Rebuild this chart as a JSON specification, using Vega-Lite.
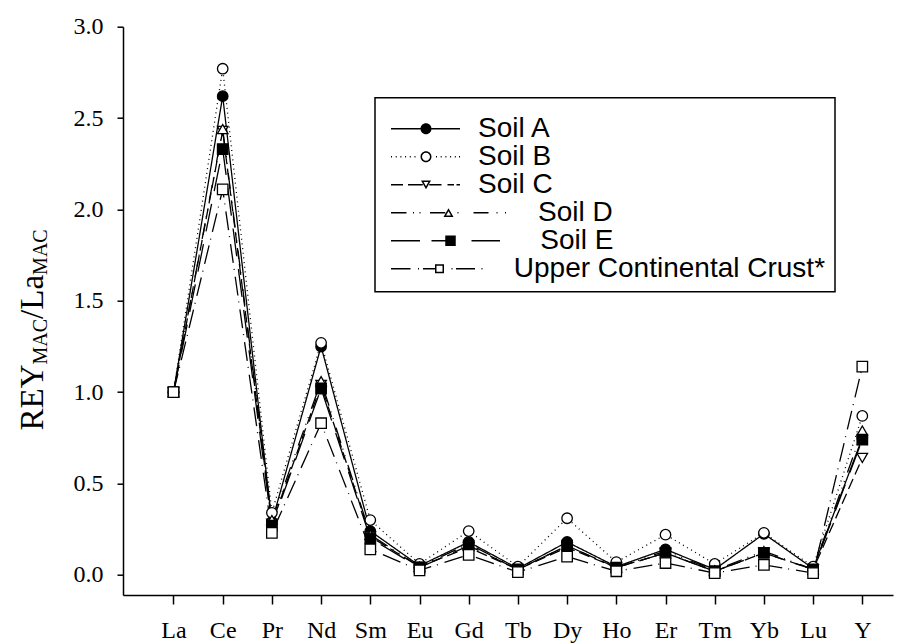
{
  "$schema": "https://vega.github.io/schema/vega-lite/v6.json",
  "width": 770,
  "height": 568.3,
  "autosize": {"type": "none"},
  "padding": {"left": 123, "top": 26.7, "right": 4, "bottom": 49},
  "background": "white",
  "config": {
    "view": {"stroke": null},
    "axis": {"grid": false, "domainColor": "black", "tickColor": "black", "labelColor": "black", "titleColor": "black", "labelFont": "Liberation Serif", "titleFont": "Liberation Serif", "titleFontWeight": "normal"},
    "legend": {"strokeWidth": 1.5}
  },
  "data": {"values": [
    {"series": "Soil A", "element": "La", "value": 1.0}, {"series": "Soil A", "element": "Ce", "value": 2.62}, {"series": "Soil A", "element": "Pr", "value": 0.29}, {"series": "Soil A", "element": "Nd", "value": 1.25}, {"series": "Soil A", "element": "Sm", "value": 0.24}, {"series": "Soil A", "element": "Eu", "value": 0.05}, {"series": "Soil A", "element": "Gd", "value": 0.18}, {"series": "Soil A", "element": "Tb", "value": 0.035}, {"series": "Soil A", "element": "Dy", "value": 0.18}, {"series": "Soil A", "element": "Ho", "value": 0.045}, {"series": "Soil A", "element": "Er", "value": 0.14}, {"series": "Soil A", "element": "Tm", "value": 0.03}, {"series": "Soil A", "element": "Yb", "value": 0.225}, {"series": "Soil A", "element": "Lu", "value": 0.035}, {"series": "Soil A", "element": "Y", "value": 0.75},
    {"series": "Soil B", "element": "La", "value": 1.0}, {"series": "Soil B", "element": "Ce", "value": 2.77}, {"series": "Soil B", "element": "Pr", "value": 0.34}, {"series": "Soil B", "element": "Nd", "value": 1.27}, {"series": "Soil B", "element": "Sm", "value": 0.30}, {"series": "Soil B", "element": "Eu", "value": 0.06}, {"series": "Soil B", "element": "Gd", "value": 0.24}, {"series": "Soil B", "element": "Tb", "value": 0.045}, {"series": "Soil B", "element": "Dy", "value": 0.31}, {"series": "Soil B", "element": "Ho", "value": 0.07}, {"series": "Soil B", "element": "Er", "value": 0.22}, {"series": "Soil B", "element": "Tm", "value": 0.06}, {"series": "Soil B", "element": "Yb", "value": 0.23}, {"series": "Soil B", "element": "Lu", "value": 0.045}, {"series": "Soil B", "element": "Y", "value": 0.87},
    {"series": "Soil C", "element": "La", "value": 1.0}, {"series": "Soil C", "element": "Ce", "value": 2.43}, {"series": "Soil C", "element": "Pr", "value": 0.28}, {"series": "Soil C", "element": "Nd", "value": 1.04}, {"series": "Soil C", "element": "Sm", "value": 0.21}, {"series": "Soil C", "element": "Eu", "value": 0.045}, {"series": "Soil C", "element": "Gd", "value": 0.15}, {"series": "Soil C", "element": "Tb", "value": 0.03}, {"series": "Soil C", "element": "Dy", "value": 0.15}, {"series": "Soil C", "element": "Ho", "value": 0.04}, {"series": "Soil C", "element": "Er", "value": 0.12}, {"series": "Soil C", "element": "Tm", "value": 0.02}, {"series": "Soil C", "element": "Yb", "value": 0.12}, {"series": "Soil C", "element": "Lu", "value": 0.03}, {"series": "Soil C", "element": "Y", "value": 0.64},
    {"series": "Soil D", "element": "La", "value": 1.0}, {"series": "Soil D", "element": "Ce", "value": 2.44}, {"series": "Soil D", "element": "Pr", "value": 0.30}, {"series": "Soil D", "element": "Nd", "value": 1.06}, {"series": "Soil D", "element": "Sm", "value": 0.22}, {"series": "Soil D", "element": "Eu", "value": 0.045}, {"series": "Soil D", "element": "Gd", "value": 0.17}, {"series": "Soil D", "element": "Tb", "value": 0.03}, {"series": "Soil D", "element": "Dy", "value": 0.16}, {"series": "Soil D", "element": "Ho", "value": 0.04}, {"series": "Soil D", "element": "Er", "value": 0.13}, {"series": "Soil D", "element": "Tm", "value": 0.025}, {"series": "Soil D", "element": "Yb", "value": 0.13}, {"series": "Soil D", "element": "Lu", "value": 0.03}, {"series": "Soil D", "element": "Y", "value": 0.79},
    {"series": "Soil E", "element": "La", "value": 1.0}, {"series": "Soil E", "element": "Ce", "value": 2.33}, {"series": "Soil E", "element": "Pr", "value": 0.27}, {"series": "Soil E", "element": "Nd", "value": 1.02}, {"series": "Soil E", "element": "Sm", "value": 0.20}, {"series": "Soil E", "element": "Eu", "value": 0.04}, {"series": "Soil E", "element": "Gd", "value": 0.16}, {"series": "Soil E", "element": "Tb", "value": 0.03}, {"series": "Soil E", "element": "Dy", "value": 0.16}, {"series": "Soil E", "element": "Ho", "value": 0.04}, {"series": "Soil E", "element": "Er", "value": 0.12}, {"series": "Soil E", "element": "Tm", "value": 0.02}, {"series": "Soil E", "element": "Yb", "value": 0.12}, {"series": "Soil E", "element": "Lu", "value": 0.03}, {"series": "Soil E", "element": "Y", "value": 0.74},
    {"series": "Upper Continental Crust*", "element": "La", "value": 1.0}, {"series": "Upper Continental Crust*", "element": "Ce", "value": 2.11}, {"series": "Upper Continental Crust*", "element": "Pr", "value": 0.23}, {"series": "Upper Continental Crust*", "element": "Nd", "value": 0.83}, {"series": "Upper Continental Crust*", "element": "Sm", "value": 0.14}, {"series": "Upper Continental Crust*", "element": "Eu", "value": 0.025}, {"series": "Upper Continental Crust*", "element": "Gd", "value": 0.11}, {"series": "Upper Continental Crust*", "element": "Tb", "value": 0.015}, {"series": "Upper Continental Crust*", "element": "Dy", "value": 0.10}, {"series": "Upper Continental Crust*", "element": "Ho", "value": 0.02}, {"series": "Upper Continental Crust*", "element": "Er", "value": 0.065}, {"series": "Upper Continental Crust*", "element": "Tm", "value": 0.01}, {"series": "Upper Continental Crust*", "element": "Yb", "value": 0.055}, {"series": "Upper Continental Crust*", "element": "Lu", "value": 0.01}, {"series": "Upper Continental Crust*", "element": "Y", "value": 1.14}
  ]},
  "resolve": {"scale": {"shape": "independent"}, "axis": {"y": "independent"}, "legend": {"shape": "independent"}},
  "encoding": {
    "x": {"field": "element", "type": "nominal", "sort": ["La", "Ce", "Pr", "Nd", "Sm", "Eu", "Gd", "Tb", "Dy", "Ho", "Er", "Tm", "Yb", "Lu", "Y"], "scale": {"type": "point", "padding": 0.825, "align": 0.622},
      "axis": {"orient": "bottom", "title": null, "domainWidth": 1.5, "tickSize": 9, "tickWidth": 1.5, "labelFontSize": 24, "labelPadding": 14, "labelAngle": 0}}
  },
  "layer": [
    {
      "mark": {"type": "line", "color": "black", "strokeWidth": 1.3},
      "encoding": {
        "y": {"field": "value", "type": "quantitative", "scale": {"domain": [-0.11, 3.0], "nice": false, "zero": false},
          "axis": {"orient": "left", "values": [0, 0.5, 1, 1.5, 2, 2.5, 3], "format": ".1f", "domainWidth": 1.5, "tickSize": 6, "tickWidth": 1.5, "labelFontSize": 24, "labelPadding": 14,
            "title": "REY", "titleFontSize": 33, "titleAngle": -90, "titleAlign": "left", "titleBaseline": "alphabetic", "titleX": -80.3, "titleY": 403.3}},
        "strokeDash": {"field": "series", "type": "nominal", "legend": null,
          "scale": {"domain": ["Soil A", "Soil B", "Soil C", "Soil D", "Soil E", "Upper Continental Crust*"], "range": [[1, 0], [1, 3.7], [11, 5], [16, 6, 1, 6, 1, 9], [28, 13], [19, 6, 1, 7]]}}
      }
    },
    {
      "mark": {"type": "point", "filled": true, "opacity": 1, "stroke": "black", "strokeWidth": 1.3, "size": 110},
      "encoding": {
        "y": {"field": "value", "type": "quantitative",
          "axis": {"orient": "left", "domain": false, "ticks": false, "labels": false, "title": "MAC", "titleFontSize": 20, "titleAngle": -90, "titleAlign": "left", "titleBaseline": "alphabetic", "titleX": -76.3, "titleY": 337.3}},
        "shape": {"field": "series", "type": "nominal", "legend": null,
          "scale": {"domain": ["Soil A", "Soil B", "Soil C", "Soil D", "Soil E", "Upper Continental Crust*"], "range": ["circle", "circle", "triangle-down", "triangle-up", "square", "square"]}},
        "fill": {"field": "series", "type": "nominal", "legend": null,
          "scale": {"domain": ["Soil A", "Soil B", "Soil C", "Soil D", "Soil E", "Upper Continental Crust*"], "range": ["black", "white", "white", "white", "black", "white"]}}
      }
    },
    {
      "mark": {"type": "point", "filled": true, "color": "black", "opacity": 0, "size": 100},
      "encoding": {
        "y": {"field": "value", "type": "quantitative",
          "axis": {"orient": "left", "domain": false, "ticks": false, "labels": false, "title": "/La", "titleFontSize": 33, "titleAngle": -90, "titleAlign": "left", "titleBaseline": "alphabetic", "titleX": -80.3, "titleY": 291.7}},
        "shape": {"field": "series", "type": "nominal",
          "scale": {"domain": ["Soil A", "Soil B", "Soil C", "Soil D", "Soil E", "Upper Continental Crust*"],
            "range": [
              "M0,-0.15H5.9V0.15H0ZM8.1,-0.15H13.8V0.15H8.1ZM8.1,0A1.1,1.1,0,1,1,5.9,0A1.1,1.1,0,1,1,8.1,0Z",
              "M0,-0.15H0.2V0.15H0ZM0.94,-0.15H1.14V0.15H0.94ZM1.88,-0.15H2.08V0.15H1.88ZM2.82,-0.15H3.02V0.15H2.82ZM3.76,-0.15H3.96V0.15H3.76ZM4.7,-0.15H4.9V0.15H4.7ZM8.1,0A1.1,1.1,0,1,1,5.9,0A1.1,1.1,0,1,1,8.1,0ZM7.8,0A0.8,0.8,0,1,0,6.2,0A0.8,0.8,0,1,0,7.8,0ZM9,-0.15H9.2V0.15H9ZM9.94,-0.15H10.14V0.15H9.94ZM10.88,-0.15H11.08V0.15H10.88ZM11.82,-0.15H12.02V0.15H11.82ZM12.76,-0.15H12.96V0.15H12.76ZM13.6,-0.15H13.8V0.15H13.6Z",
              "M0,-0.15H2.4V0.15H0ZM3.4,-0.15H6.35V0.15H3.4ZM6,-0.85L8,-0.85L7,0.9ZM6.517,-0.55L7,0.295L7.483,-0.55ZM7.65,-0.15H10.1V0.15H7.65ZM11.3,-0.15H12.6V0.15H11.3ZM13.1,-0.15H13.8V0.15H13.1Z",
              "M0,-0.15H3.1V0.15H0ZM4.4,-0.15H4.6V0.15H4.4ZM5.7,-0.15H5.9V0.15H5.7ZM7.8,-0.15H10.85V0.15H7.8ZM10.5,0.85L12.5,0.85L11.5,-0.9ZM11.017,0.55L11.5,-0.295L11.983,0.55ZM13.3,-0.15H13.5V0.15H13.3ZM16.5,-0.15H19.5V0.15H16.5ZM21.1,-0.15H21.3V0.15H21.1ZM22.8,-0.15H23V0.15H22.8Z",
              "M0,-0.15H5.8V0.15H0ZM8.1,-0.15H10.85V0.15H8.1ZM10.85,-1.05H12.95V1.05H10.85ZM16.1,-0.15H21.8V0.15H16.1Z",
              "M0,-0.15H3.9V0.15H0ZM5.4,-0.15H5.6V0.15H5.4ZM6.4,-0.15H8.8V0.15H6.4ZM8.8,-0.9H10.6V0.9H8.8ZM9.1,-0.6V0.6H10.3V-0.6ZM12.1,-0.15H12.3V0.15H12.1ZM13,-0.15H16.8V0.15H13ZM18.1,-0.15H18.3V0.15H18.1Z"
            ]},
          "legend": {"orient": "none", "legendX": 252, "legendY": 71, "title": "\u00a0", "titleFontSize": 8, "titlePadding": 0, "padding": 9,
            "strokeColor": "black", "fillColor": "white", "labelFont": "Liberation Sans", "labelFontSize": 28, "labelColor": "black", "labelLimit": 700, "labelOffset": 73, "rowPadding": 0,
            "symbolSize": 100, "symbolOffset": -7, "symbolFillColor": "black", "symbolOpacity": 1,
            "labelExpr": "datum.label == 'Soil D' ? '\u200b\u00a0\u00a0\u00a0\u00a0\u00a0\u00a0\u00a0\u2009' + datum.label : datum.label == 'Soil E' ? '\u200b\u00a0\u00a0\u00a0\u00a0\u00a0\u00a0\u00a0\u00a0' + datum.label : datum.label == 'Upper Continental Crust*' ? '\u200b\u00a0\u00a0\u00a0\u00a0\u2006' + datum.label : datum.label"}}
      }
    },
    {
      "mark": {"type": "point", "opacity": 0},
      "encoding": {
        "y": {"field": "value", "type": "quantitative",
          "axis": {"orient": "left", "domain": false, "ticks": false, "labels": false, "title": "MAC", "titleFontSize": 20, "titleAngle": -90, "titleAlign": "left", "titleBaseline": "alphabetic", "titleX": -76.3, "titleY": 247.7}}
      }
    }
  ]
}
